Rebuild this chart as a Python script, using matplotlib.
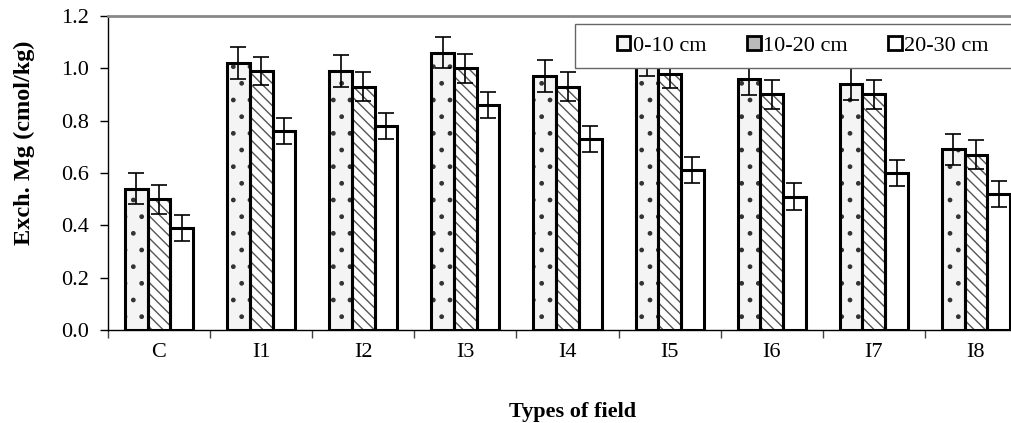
import numpy as np
import matplotlib
matplotlib.use("Agg")
import matplotlib.pyplot as plt
from matplotlib.patches import Patch, Rectangle

plt.rcParams['font.family'] = ['Liberation Serif', 'DejaVu Serif']
plt.rcParams['hatch.linewidth'] = 1.0

# data
fields = ["C", "I1", "I2", "I3", "I4", "I5", "I6", "I7", "I8"]
depths = ["0-10 cm", "10-20 cm", "20-30 cm"]
mg_0_10 = [0.54, 1.02, 0.99, 1.06, 0.97, 1.03, 0.96, 0.94, 0.69]
mg_10_20 = [0.50, 0.99, 0.93, 1.00, 0.93, 0.98, 0.90, 0.90, 0.67]
mg_20_30 = [0.39, 0.76, 0.78, 0.86, 0.73, 0.61, 0.51, 0.60, 0.52]
err_0_10 = [0.06] * 9
err_10_20 = [0.055] * 9
err_20_30 = [0.05] * 9

W, H = 1011, 423
fs = 16
fig = plt.figure(figsize=(W / 100, H / 100), dpi=100)
ax = fig.add_axes([108 / W, 1 - 330 / H, 919 / W, 314 / H])

x = np.arange(len(fields))
bw = 0.222
series = [(mg_0_10, err_0_10, '#f4f4f4', '.', '#333333'),
          (mg_10_20, err_10_20, 'white', '\\\\\\', '#555555'),
          (mg_20_30, err_20_30, 'white', '', 'black')]

for i, (vals, errs, fc, hatch, hc) in enumerate(series):
    pos = x + (i - 1) * bw
    # hatch layer first, then outline on top
    ax.bar(pos, vals, bw, color=fc, hatch=hatch, edgecolor=hc, linewidth=0, zorder=2)
    ax.bar(pos, vals, bw, fill=False, edgecolor='black', linewidth=2.2, zorder=3)
    ax.errorbar(pos, vals, yerr=errs, fmt='none', ecolor='black', elinewidth=1.2,
                capsize=6, capthick=1.2, zorder=4)

ax.set_xlim(-0.5, len(fields) - 0.5)
ax.set_ylim(0, 1.2)
ax.set_yticks(np.arange(0, 1.21, 0.2))
ax.set_yticklabels([f"{v:.1f}" for v in np.arange(0, 1.21, 0.2)], fontsize=fs)
ax.tick_params(axis='y', direction='out', length=6, width=1, pad=8)

ax.set_xticks(np.arange(-0.5, len(fields), 1.0))
ax.set_xticklabels([])
ax.set_xticks(x, minor=True)
ax.set_xticklabels(fields, minor=True, fontsize=fs)
ax.tick_params(axis='x', which='major', direction='out', length=6, width=1, color='#444444')
ax.tick_params(axis='x', which='minor', length=0, pad=9)

ax.spines['top'].set_color('#888888')
ax.spines['top'].set_linewidth(2)
ax.spines['right'].set_visible(False)
ax.spines['left'].set_linewidth(1)
ax.spines['bottom'].set_linewidth(1)

ax.set_ylabel("Exch. Mg (cmol/kg)", fontsize=17.5, fontweight='bold')
ax.yaxis.set_label_coords(-73 / 919, 187 / 314)
ax.set_xlabel("Types of field", fontsize=fs, fontweight='bold')
ax.xaxis.set_label_coords(0.5 + 5 / 919, -72 / 314)

# legend box (runs off the right edge like the reference)
fig.patches.append(Rectangle((575 / W, 1 - 68 / H), 460 / W, 44 / H,
                             transform=fig.transFigure, facecolor='white',
                             edgecolor='#666666', linewidth=1, zorder=9))
handles = [Patch(facecolor='#f4f4f4', edgecolor='black', linewidth=2),
           Patch(facecolor='#bbbbbb', edgecolor='black', linewidth=2),
           Patch(facecolor='white', edgecolor='black', linewidth=2)]
leg = fig.legend(handles, depths, loc='center left', bbox_to_anchor=(617 / W, 1 - 46 / H),
                 ncol=3, fontsize=fs, frameon=False,
                 handlelength=0.6, handleheight=0.6, handletextpad=0.1,
                 columnspacing=1.85, borderpad=0, borderaxespad=0)
leg.set_zorder(10)

fig.savefig("out.png", dpi=100)
